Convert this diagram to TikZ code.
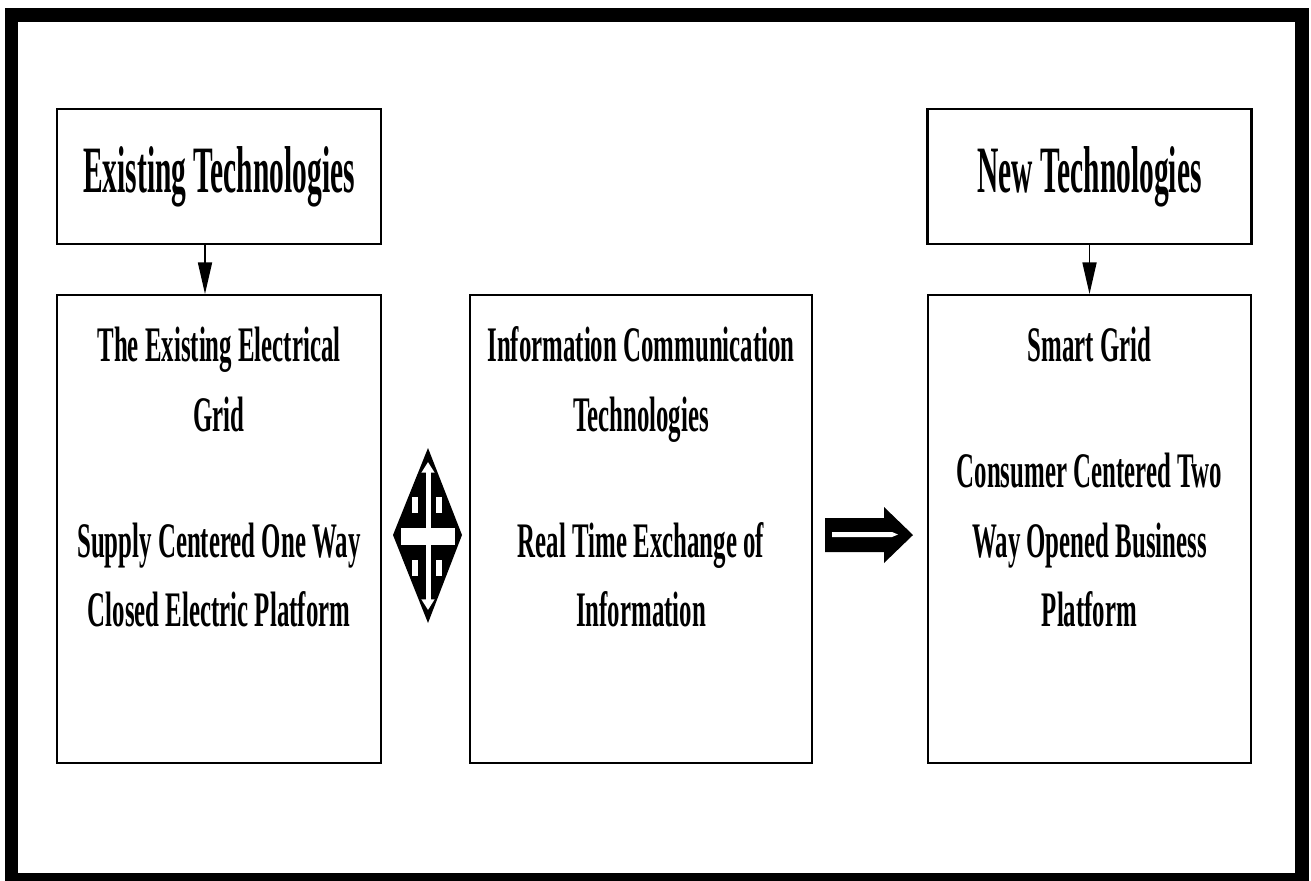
\documentclass[tikz,border=0pt]{standalone}
\usepackage{fontspec}
\setmainfont{Liberation Serif}
\newfontfamily\bodyfont{Liberation Serif}[FakeStretch=0.5]
\newfontfamily\headfont{Liberation Serif}[FakeStretch=0.445]
\usetikzlibrary{arrows.meta,positioning}
\newcommand{\firstline}{\rule{0pt}{20pt}}

\begin{document}
\begin{tikzpicture}[x=0.02cm,y=-0.02cm,
  headbox/.style={draw,line width=1.2pt,minimum width=6.48cm,minimum height=2.7cm,inner sep=0pt,
    font=\headfont\bfseries\fontsize{37.7pt}{45pt}\selectfont},
  gridbox/.style={draw,line width=1.2pt,minimum height=9.36cm,inner sep=0pt},
  boxtext/.style={align=center,inner sep=0pt,font=\bodyfont\bfseries\fontsize{28.3pt}{39.7pt}\selectfont},
  downarrow/.style={line width=0.9pt,-{Triangle[length=18pt,width=8pt]}}]
\useasboundingbox (0,0) rectangle (1311,880);
\draw[line width=0.27cm] (11.5,15) rectangle (1302,880);
% boxes
\node[headbox] (et) at (219,176.5) {Existing Technologies};
\node[headbox] (nt) at (1089.5,176.5) {New Technologies};
\node[gridbox,minimum width=6.48cm] (eg) at (219,529) {};
\node[gridbox,minimum width=6.84cm] (ict) at (641,529) {};
\node[gridbox,minimum width=6.46cm] (sg) at (1089.5,529) {};
\node[boxtext,below=0.64cm of eg.north] (egtext) {\firstline The Existing Electrical\\Grid\\[32pt]Supply Centered One Way\\Closed Electric Platform};
\node[boxtext,below=0.64cm of ict.north] (icttext) {\firstline Information Communication\\Technologies\\[32pt]Real Time Exchange of\\Information};
\node[boxtext,below=0.64cm of sg.north] (sgtext) {\firstline Smart Grid\\[32pt]Consumer Centered Two\\Way Opened Business\\Platform};
\draw[downarrow] ([xshift=-0.28cm]et.south) -- ([xshift=-0.28cm]eg.north);
\draw[downarrow] (nt) -- (sg);
% two way symbol
\fill (428,448) -- (462,535) -- (428,623) -- (393,535) -- cycle;
\fill[white] (401,528) rectangle (455,545);
\foreach \x in {412,436}
  \foreach \y in {497,560}
    \fill[white] (\x,\y) rectangle ++(6,16);
\draw[white,line width=0.1cm,{Triangle[length=6pt,width=7pt]}-{Triangle[length=6pt,width=7pt]}] (428,462) -- (428,610);
% right arrow
\fill (825,518) -- (884,518) -- (884,507) -- (913,535) -- (884,563) -- (884,552) -- (825,552) -- cycle;
\fill[white] (832,532) -- (892,532) -- (898,534.5) -- (892,537) -- (832,537) -- cycle;
\end{tikzpicture}
\end{document}
